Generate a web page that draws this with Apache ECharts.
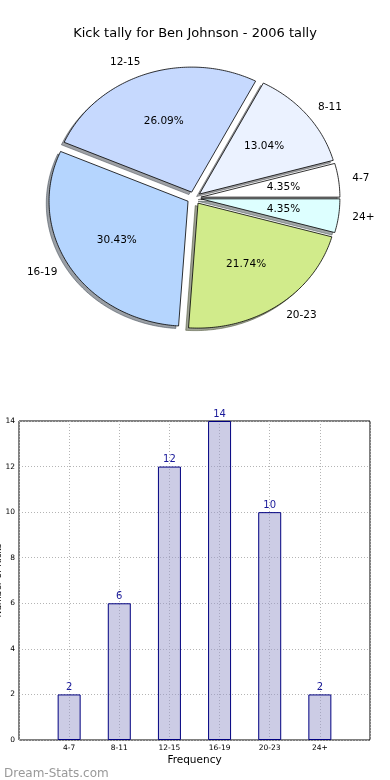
<!DOCTYPE html>
<html>
<head>
<meta charset="utf-8">
<script src="https://cdn.jsdelivr.net/npm/echarts@6/dist/echarts.min.js"></script>
<style>
html,body{margin:0;padding:0;background:#fff;}
#chart{width:390px;height:780px;}
</style>
</head>
<body>
<div id="chart"></div>
<script>
// ---- data ----
const titleText = 'Kick tally for Ben Johnson - 2006 tally';
const categories = ['4-7', '8-11', '12-15', '16-19', '20-23', '24+'];
const tallyValues = [2, 6, 12, 14, 10, 2];
const sliceColors = ['#ffffff', '#ebf2ff', '#c6d9fe', '#b5d5fe', '#d1eb8b', '#ddffff'];
const yTicks = [0, 2, 4, 6, 8, 10, 12, 14];
const xAxisName = 'Frequency';
const yAxisName = 'Number of Kicks';
const watermark = 'Dream-Stats.com';

// ---- derived pie angles ----
const total = tallyValues.reduce((a, b) => a + b, 0);
const spans = tallyValues.map(v => v / total * Math.PI * 2);
const starts = [];
spans.reduce((acc, s, i) => { starts[i] = acc; return acc + s; }, 0);
const EXPLODE = 0.05, LABEL_R = 1.1, PCT_R = 0.6, SH = 0.02;

function shadowOf(hex) {
  const r = parseInt(hex.slice(1, 3), 16), g = parseInt(hex.slice(3, 5), 16), b = parseInt(hex.slice(5, 7), 16);
  return 'rgba(' + Math.round(r * 0.3) + ',' + Math.round(g * 0.3) + ',' + Math.round(b * 0.3) + ',0.5)';
}

function wedgePoints(i, api, dx, dy) {
  const a0 = starts[i], a1 = a0 + spans[i], mid = (a0 + a1) / 2;
  const ox = EXPLODE * Math.cos(mid) + dx, oy = EXPLODE * Math.sin(mid) + dy;
  const pts = [api.coord([ox, oy])];
  const n = Math.max(6, Math.ceil((a1 - a0) / 0.015));
  for (let k = 0; k <= n; k++) {
    const t = a0 + (a1 - a0) * k / n;
    pts.push(api.coord([ox + Math.cos(t), oy + Math.sin(t)]));
  }
  return pts;
}

const FONT = '"DejaVu Sans", sans-serif';

const chart = echarts.init(document.getElementById('chart'), null, { renderer: 'canvas' });
chart.setOption({
  animation: false,
  backgroundColor: '#fff',
  title: [
    { text: titleText, left: 'center', top: 22,
      textStyle: { fontFamily: FONT, fontSize: 13, fontWeight: 'normal', color: '#000' } },
    { text: watermark, left: -1, top: 763,
      textStyle: { fontFamily: FONT, fontSize: 12, fontWeight: 'normal', color: '#999999' } }
  ],
  grid: [
    { left: 55, width: 278, top: 73, height: 250, show: false, outerBoundsMode: 'none', containLabel: false },
    { left: 19, right: 20, top: 421, bottom: 40, show: true, borderColor: '#000', borderWidth: 1,
      backgroundColor: 'transparent', outerBoundsMode: 'none', containLabel: false }
  ],
  xAxis: [
    { gridIndex: 0, type: 'value', min: -1, max: 1, show: false },
    { gridIndex: 1, type: 'value', min: 0, max: 7, interval: 1,
      name: xAxisName, nameLocation: 'middle', nameGap: 15, nameMoveOverlap: false,
      nameTextStyle: { fontFamily: FONT, fontSize: 10.5, color: '#000' },
      axisLine: { show: false },
      axisTick: { show: false },
      axisLabel: { fontFamily: FONT, fontSize: 7.5, color: '#000', margin: 4,
        showMinLabel: false, showMaxLabel: false,
        formatter: v => categories[v - 1] || '' },
      splitLine: { show: true, lineStyle: { color: '#b4b4b4', type: [1, 2], width: 1 } }
    }
  ],
  yAxis: [
    { gridIndex: 0, type: 'value', min: -1, max: 1, show: false },
    { gridIndex: 1, type: 'value', min: 0, max: 14, interval: 2,
      name: yAxisName, nameLocation: 'middle', nameGap: 15.5, nameMoveOverlap: false,
      nameTextStyle: { fontFamily: FONT, fontSize: 9, color: '#000' },
      axisLine: { show: false },
      axisTick: { show: false },
      axisLabel: { fontFamily: FONT, fontSize: 7.5, color: '#000', margin: 4,
        formatter: v => (yTicks.indexOf(v) >= 0 ? String(v) : '') },
      splitLine: { show: true, lineStyle: { color: '#b4b4b4', type: [1, 2], width: 1 } }
    }
  ],
  series: [
    {
      type: 'custom', xAxisIndex: 0, yAxisIndex: 0, clip: false,
      data: tallyValues.map((v, i) => ({ name: categories[i], value: [0, 0, v] })),
      encode: { x: 0, y: 1 },
      renderItem: function (params, api) {
        const i = params.dataIndex;
        return {
          type: 'group',
          children: [
            { type: 'polygon', shape: { points: wedgePoints(i, api, -SH, -SH) },
              style: { fill: shadowOf(sliceColors[i]), stroke: shadowOf(sliceColors[i]), lineWidth: 1 } },
            { type: 'polygon', shape: { points: wedgePoints(i, api, 0, 0) },
              style: { fill: sliceColors[i], stroke: '#000', lineWidth: 0.8 } }
          ]
        };
      }
    },
    {
      type: 'custom', xAxisIndex: 0, yAxisIndex: 0, clip: false, z: 5,
      data: tallyValues.map((v, i) => ({ name: categories[i], value: [0, 0, v] })),
      encode: { x: 0, y: 1 },
      renderItem: function (params, api) {
        const i = params.dataIndex;
        const mid = starts[i] + spans[i] / 2;
        const ox = EXPLODE * Math.cos(mid), oy = EXPLODE * Math.sin(mid);
        const lx = ox + LABEL_R * Math.cos(mid), ly = oy + LABEL_R * Math.sin(mid);
        const px = ox + PCT_R * Math.cos(mid), py = oy + PCT_R * Math.sin(mid);
        const lp = api.coord([lx, ly]), pp = api.coord([px, py]);
        const pct = (tallyValues[i] / total * 100).toFixed(2) + '%';
        return {
          type: 'group',
          children: [
            { type: 'text', x: lp[0], y: lp[1],
              style: { text: categories[i], fill: '#000', font: '10.5px ' + FONT,
                align: lx > 0 ? 'left' : 'right', verticalAlign: 'middle' } },
            { type: 'text', x: pp[0], y: pp[1],
              style: { text: pct, fill: '#000', font: '10.5px ' + FONT,
                align: 'center', verticalAlign: 'middle' } }
          ]
        };
      }
    },
    {
      type: 'bar', xAxisIndex: 1, yAxisIndex: 1,
      data: tallyValues.map((v, i) => [i + 1, v]),
      barWidth: 23,
      itemStyle: { color: 'rgba(153,153,204,0.5)', borderColor: '#000080', borderWidth: 1 },
      label: { show: true, position: 'top', distance: 2,
        fontFamily: FONT, fontSize: 10, color: '#1a1a9a',
        formatter: p => String(p.value[1]) }
    }
  ]
});
</script>
</body>
</html>
